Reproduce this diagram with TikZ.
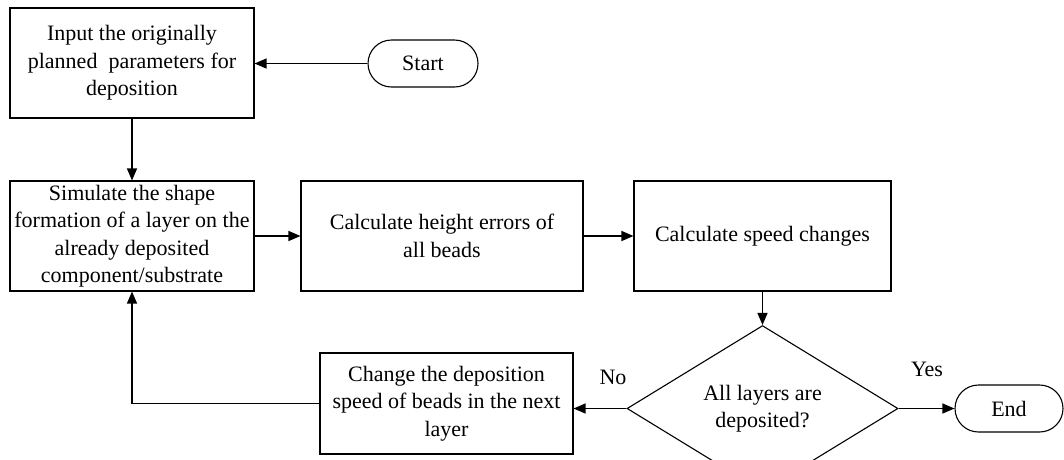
\documentclass[tikz,border=0pt]{standalone}
\usepackage{fontspec}
\setmainfont{Liberation Serif}
\usetikzlibrary{arrows.meta,shapes.geometric,shapes.misc}
\begin{document}
\begin{tikzpicture}[x=1pt,y=-1pt,
  every node/.style={font=\fontsize{22}{27.5}\selectfont},
  box/.style={draw,line width=1.1pt,rectangle,align=center,inner sep=0pt},
  term/.style={draw,line width=1.1pt,rounded rectangle,inner sep=0pt},
  dec/.style={draw,line width=1.1pt,diamond,inner sep=0pt,align=center},
  arr/.style={line width=1.3pt,-{Triangle[length=12pt,width=10pt]}},
  lbl/.style={inner sep=0pt}]
\useasboundingbox (0,0) rectangle (1064,459);
\node[box,minimum width=244pt,minimum height=110pt] (b1) at (132,63) {Input the originally\\planned\ \ parameters for\\deposition};
\node[term,minimum width=110pt,minimum height=47pt] (start) at (423,63.5) {Start};
\node[box,minimum width=244pt,minimum height=110pt] (b2) at (132,236) {Simulate the shape\\formation of a layer on the\\already deposited\\component/substrate};
\node[box,minimum width=282pt,minimum height=110pt] (b3) at (442,236) {Calculate height errors of\\all beads};
\node[box,minimum width=257pt,minimum height=110pt] (b4) at (762.5,236) {Calculate speed changes};
\node[dec,minimum width=271pt,minimum height=101pt] (d) at (762.5,408.5) {All layers are\\deposited?};
\node[box,minimum width=253pt,minimum height=101pt] (b5) at (446.5,403.5) {Change the deposition\\speed of beads in the next\\layer};
\node[term,minimum width=108pt,minimum height=47pt] (end) at (1009,408.5) {End};
\node[lbl] (no) at (613,377) {No};
\node[lbl] (yes) at (927,369) {Yes};
\draw[arr] (start.west) -- (b1.east |- start.west);
\draw[arr] (b1.south) -- (b2.north);
\draw[arr] (b2.east) -- (b3.west);
\draw[arr] (b3.east) -- (b4.west);
\draw[arr] (b4.south) -- (d.north);
\draw[arr] (d.west) -- (b5.east |- d.west);
\draw[arr] (d.east) -- (end.west |- d.east);
\draw[arr] (b5.west) -| (b2.south);
\end{tikzpicture}
\end{document}
